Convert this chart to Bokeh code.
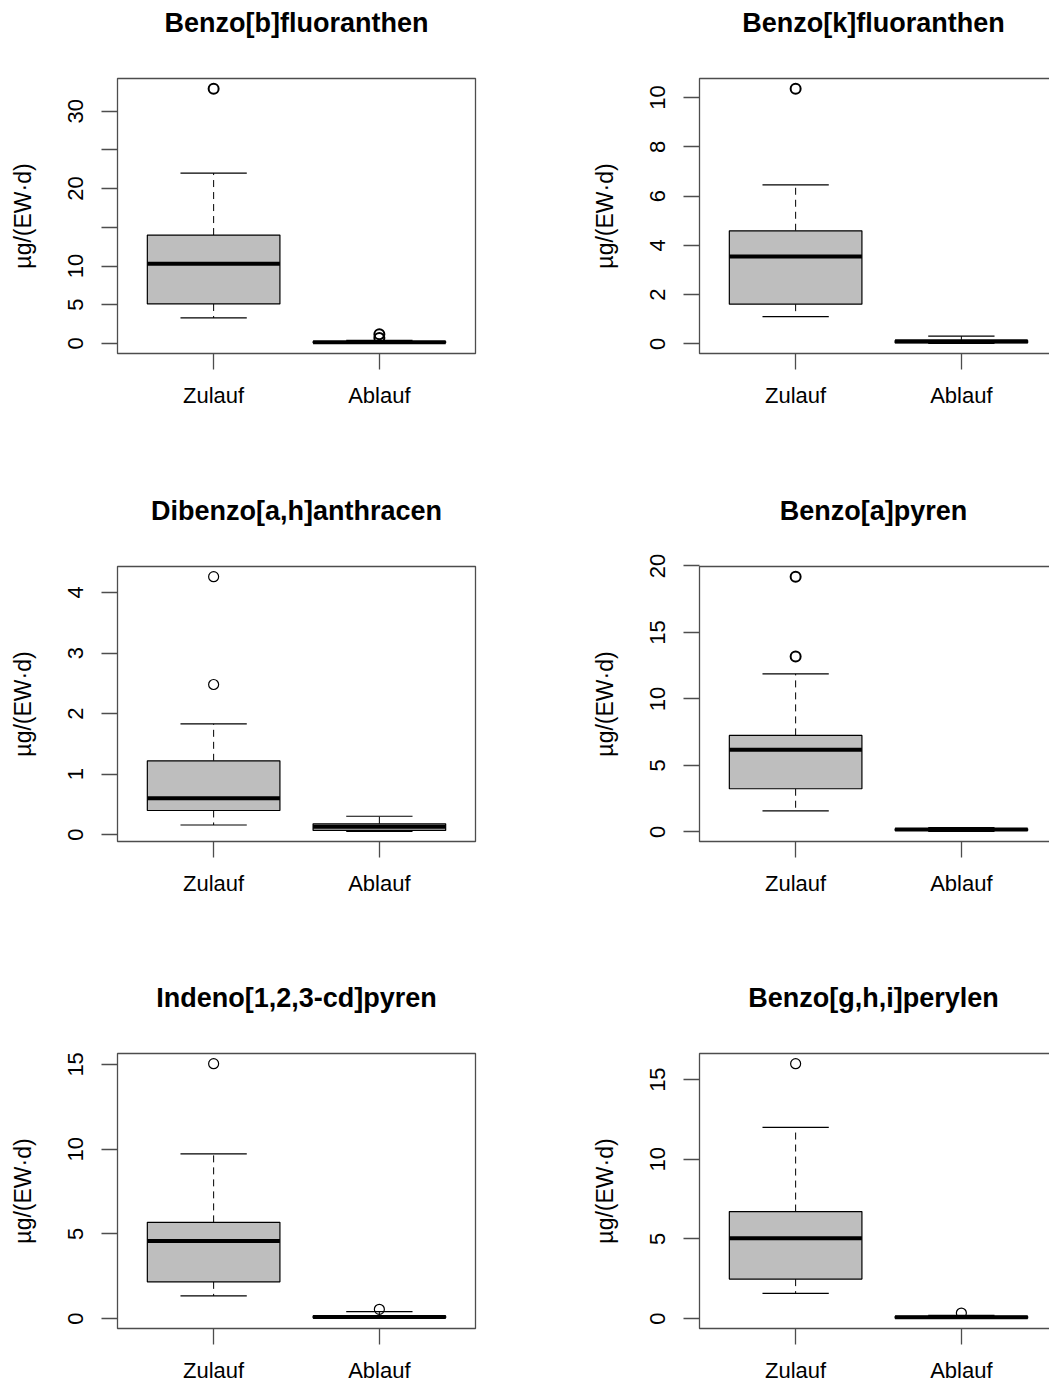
from bokeh.plotting import figure
from bokeh.layouts import column, row
from bokeh.models import FixedTicker, Range1d, Title
from bokeh.embed import file_html
from bokeh.resources import INLINE

# ---- data -------------------------------------------------------------
titles = [
    "Benzo[b]fluoranthen",
    "Benzo[k]fluoranthen",
    "Dibenzo[a,h]anthracen",
    "Benzo[a]pyren",
    "Indeno[1,2,3-cd]pyren",
    "Benzo[g,h,i]perylen",
]
groups = ["Zulauf", "Ablauf"]
y_label = "µg/(EW·d)"

# box statistics per compound: lower whisker, Q1, median, Q3, upper whisker
zulauf_stats = [
    [3.3, 5.1, 10.3, 14.0, 22.0],
    [1.10, 1.61, 3.55, 4.59, 6.45],
    [0.16, 0.40, 0.60, 1.22, 1.83],
    [1.59, 3.25, 6.18, 7.26, 11.88],
    [1.34, 2.17, 4.58, 5.68, 9.72],
    [1.58, 2.48, 5.04, 6.72, 12.0],
]
ablauf_stats = [
    [0.02, 0.08, 0.15, 0.25, 0.40],
    [0.02, 0.04, 0.10, 0.13, 0.31],
    [0.056, 0.07, 0.13, 0.18, 0.305],
    [0.05, 0.12, 0.18, 0.24, 0.32],
    [0.02, 0.04, 0.10, 0.16, 0.41],
    [0.02, 0.03, 0.08, 0.14, 0.20],
]
zulauf_outliers = [[32.9], [10.36], [4.26, 2.48], [19.19, 13.19], [15.04], [16.0]]
ablauf_outliers = [[1.2, 0.7], [], [], [], [0.55], [0.35]]

y_ticks = [
    [0, 5, 10, 15, 20, 25, 30],
    [0, 2, 4, 6, 8, 10],
    [0, 1, 2, 3, 4],
    [0, 5, 10, 15, 20],
    [0, 5, 10, 15],
    [0, 5, 10, 15],
]
unlabelled_ticks = [[15, 25], [], [], [], [], []]

# ---- styling / geometry ----------------------------------------------
FONT = "Liberation Sans"
FRAME_COLOR = "#4d4d4d"
BOX_FILL = "#BEBEBE"
ROW_H = [488, 487, 410]
COL_W = [582, 467]
LEFT = 115          # left border of each plot area
TOP = 76            # top border of each plot area
PAD = 2             # gap between plot area edge and drawn box frame
BOX_W = 358         # drawn frame width
BOX_H = 275         # drawn frame height
FRAME_H = BOX_H + 2 * PAD
circle_width = [2, 2, 1.2, 2, 1.2, 1.2]


def make_panel(i):
    col, rw = i % 2, i // 2
    stats = [zulauf_stats[i], ablauf_stats[i]]
    outs = [zulauf_outliers[i], ablauf_outliers[i]]
    positions = [1, 2]

    values = [v for s in stats for v in s] + [v for o in outs for v in o]
    lo, hi = min(values), max(values)
    y0 = lo - 0.04 * (hi - lo)
    y1 = hi + 0.04 * (hi - lo)
    yupp = (y1 - y0) / BOX_H

    x0, x1 = 0.5 - 0.08, 2.5 + 0.08
    xupp = (x1 - x0) / BOX_W
    if col == 0:
        x_end = x1 + PAD * xupp
        right_border = COL_W[0] - LEFT - BOX_W - 2 * PAD
    else:
        x_end = x0 + (COL_W[1] - LEFT - PAD) * xupp
        right_border = 0

    bottom_border = ROW_H[rw] - TOP - FRAME_H

    p = figure(
        width=COL_W[col], height=ROW_H[rw],
        x_range=Range1d(x0 - PAD * xupp, x_end),
        y_range=Range1d(y0 - PAD * yupp, y1 + PAD * yupp),
        min_border_left=LEFT, min_border_right=right_border,
        min_border_top=TOP, min_border_bottom=bottom_border,
        output_backend="svg", toolbar_location=None,
        background_fill_color="white", border_fill_color="white",
    )
    p.outline_line_color = None
    p.xgrid.visible = False
    p.ygrid.visible = False

    # empty spacer between the plot area and the heading
    spacer = Title(text="\u00a0", text_font_size="10px", standoff=22)
    p.add_layout(spacer, "above")

    # heading
    p.title.text = titles[i]
    p.title.align = "center"
    p.title.text_font = FONT
    p.title.text_font_size = "27px"
    p.title.text_font_style = "bold"
    p.title.text_color = "black"
    p.title.standoff = 8
    if col == 1:
        p.title.offset = 4

    # plot frame (right edge of right column lies outside the window)
    p.quad(left=[x0], right=[x1], bottom=[y0], top=[y1],
           fill_color=None, line_color=FRAME_COLOR, line_width=1.3)

    q1 = [s[1] for s in stats]
    med = [s[2] for s in stats]
    q3 = [s[3] for s in stats]
    lw = [s[0] for s in stats]
    uw = [s[4] for s in stats]

    # whiskers
    p.segment(x0=positions * 2, y0=q3 + q1, x1=positions * 2, y1=uw + lw,
              line_color="black", line_width=1, line_dash="7 5")
    # whisker caps
    cap_l = [x - 0.2 for x in positions]
    cap_r = [x + 0.2 for x in positions]
    p.segment(x0=cap_l * 2, y0=uw + lw, x1=cap_r * 2, y1=uw + lw,
              line_color="black", line_width=1.2)
    # boxes
    p.quad(left=[x - 0.4 for x in positions], right=[x + 0.4 for x in positions],
           bottom=q1, top=q3, fill_color=BOX_FILL, line_color="black", line_width=1.2)
    # medians
    p.segment(x0=[x - 0.4 for x in positions], y0=med,
              x1=[x + 0.4 for x in positions], y1=med,
              line_color="black", line_width=4)
    # outliers
    ox = [positions[g] for g in range(2) for _ in outs[g]]
    oy = [v for g in range(2) for v in outs[g]]
    if ox:
        p.scatter(x=ox, y=oy, marker="circle", size=10, fill_color=None,
                  line_color="black", line_width=circle_width[i])

    # axes
    for ax in (p.xaxis[0], p.yaxis[0]):
        ax.axis_line_color = None
        ax.major_tick_line_color = FRAME_COLOR
        ax.major_tick_line_width = 1.3
        ax.major_tick_in = PAD
        ax.major_tick_out = 14
        ax.minor_tick_in = 0
        ax.minor_tick_out = 0
        ax.major_label_text_font = FONT
        ax.major_label_text_font_size = "22px"
        ax.major_label_text_color = "black"

    p.xaxis.ticker = FixedTicker(ticks=positions, minor_ticks=[])
    p.xaxis.major_label_overrides = {positions[g]: groups[g] for g in range(2)}
    p.xaxis.major_label_standoff = 13

    p.yaxis.ticker = FixedTicker(ticks=y_ticks[i], minor_ticks=[])
    if unlabelled_ticks[i]:
        p.yaxis.major_label_overrides = {t: "" for t in unlabelled_ticks[i]}
    p.yaxis.major_label_orientation = "vertical"
    p.yaxis.major_label_standoff = 18
    p.yaxis.axis_label = y_label
    p.yaxis.axis_label_text_font = FONT
    p.yaxis.axis_label_text_font_size = "23px"
    p.yaxis.axis_label_text_font_style = "normal"
    p.yaxis.axis_label_text_color = "black"
    p.yaxis.axis_label_standoff = 30
    return p


panels = [make_panel(i) for i in range(6)]
layout = column(
    row(panels[0], panels[1]),
    row(panels[2], panels[3]),
    row(panels[4], panels[5]),
)

open("out.html", "w").write(file_html(layout, INLINE))
